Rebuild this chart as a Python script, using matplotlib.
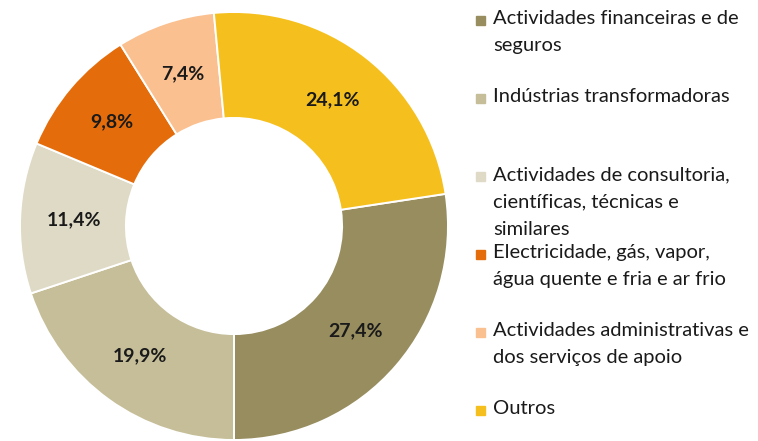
import matplotlib
matplotlib.use("Agg")
import matplotlib.pyplot as plt

plt.rcParams["font.family"] = ["Lato", "DejaVu Sans"]

# data, clockwise order as drawn
sectors = [
    "Actividades financeiras e de\nseguros",
    "Indústrias transformadoras",
    "Actividades de consultoria,\ncientíficas, técnicas e\nsimilares",
    "Electricidade, gás, vapor,\nágua quente e fria e ar frio",
    "Actividades administrativas e\ndos serviços de apoio",
    "Outros",
]
shares = [27.4, 19.9, 11.4, 9.8, 7.4, 24.1]
pct_labels = ["27,4%", "19,9%", "11,4%", "9,8%", "7,4%", "24,1%"]
colors = ["#978D5F", "#C5BE98", "#DEDAC5", "#E46C0A", "#FAC090", "#F5C01E"]

W, H = 758, 441
fig = plt.figure(figsize=(W / 100, H / 100), dpi=100)

cx, cy, r_out = 234, 226, 214
ax = fig.add_axes([(cx - r_out) / W, (H - cy - r_out) / H, 2 * r_out / W, 2 * r_out / H])

# first slice ends at the bottom (6 o'clock)
first_angle = 180 - shares[0] / 100 * 360
wedges, texts, autotexts = ax.pie(
    shares,
    colors=colors,
    startangle=90 - first_angle,
    counterclock=False,
    radius=1.0,
    wedgeprops=dict(width=0.495, edgecolor="white", linewidth=1.4),
    autopct="%1.1f%%",
    pctdistance=0.75,
)
for t, lab in zip(autotexts, pct_labels):
    t.set_text(lab)
    t.set_fontsize(14)
    t.set_fontweight("bold")
    t.set_color("#1a1a1a")
for w in wedges:
    w.set_clip_on(False)
ax.set_xlim(-1, 1)
ax.set_ylim(-1, 1)
ax.set_aspect("equal")
ax.axis("off")

# legend drawn by hand, entries top-aligned in equal slots
y_top = 21
step = 78
for i, (label, col) in enumerate(zip(sectors, colors)):
    y = y_top + i * step
    fig.patches.append(plt.Rectangle((476 / W, 1 - (y + 4) / H), 9 / W, 9 / H,
                                     transform=fig.transFigure, color=col))
    fig.text(493 / W, 1 - (y - 11) / H, label, fontsize=14.5, color="#1a1a1a",
             va="top", ha="left", linespacing=1.75)

fig.savefig("out.png", dpi=100)
